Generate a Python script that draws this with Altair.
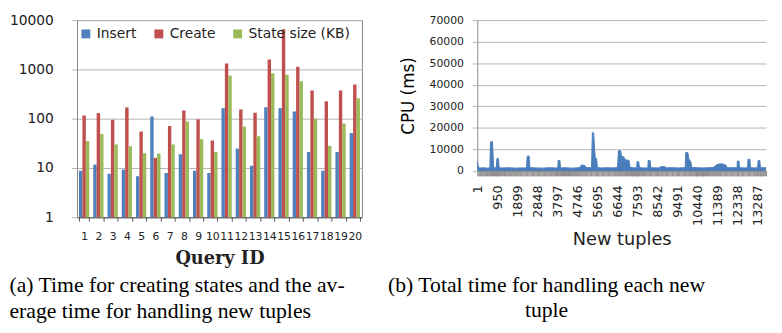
import altair as alt
import pandas as pd

# ---------- panel (a) data ----------
queries = list(range(1, 21))
insert_ms = [8.8, 11.7, 7.6, 9.3, 6.8, 111, 7.9, 19, 8.8, 7.9,
             163, 24.7, 11.1, 171, 163, 140, 21, 8.8, 21, 51]
create_ms = [116, 130, 95, 169, 55, 16, 71, 147, 97, 36,
             1318, 154, 132, 1585, 6500, 1131, 374, 225, 374, 493]
state_kb = [35, 49, 30, 27.5, 20, 19.6, 30, 88, 38.6, 21,
            747, 69, 44, 832, 782, 575, 100, 28, 80, 259]
series_names = ["Insert", "Create", "State size (KB)"]
series_colors = ["#4F81BD", "#C0504D", "#9BBB59"]
log_ticks = [1, 10, 100, 1000, 10000]

# ---------- panel (b) data ----------
tuple_ids = [1, 60, 150, 300, 450, 600, 630, 720, 780, 900, 935, 1000, 1040,
             1200, 1500, 1800, 2100, 2340, 2370, 2460, 2500, 2800, 3100, 3400,
             3700, 3820, 3840, 3920, 3950, 4200, 4500, 4800, 4900, 4950, 5100,
             5150, 5350, 5420, 5460, 5520, 5560, 5600, 5660, 5700, 5900, 6200,
             6500, 6650, 6700, 6800, 6850, 6950, 7000, 7100, 7200, 7250, 7400,
             7560, 7580, 7660, 7690, 7900, 8090, 8110, 8200, 8230, 8500, 8650,
             8700, 8900, 8960, 9200, 9500, 9860, 9890, 9990, 10030, 10130,
             10170, 10400, 10700, 11000, 11200, 11350, 11500, 11650, 11800,
             11850, 12100, 12320, 12340, 12410, 12440, 12700, 12820, 12840,
             12930, 12960, 13150, 13300, 13320, 13400, 13430, 13700]
cpu_ms = [4300, 1500, 1400, 1500, 1300, 1400, 13500, 13500, 1500, 1400, 5800,
          5800, 1500, 1400, 1500, 1300, 1400, 1400, 6900, 6900, 1500, 1400,
          1300, 1500, 1400, 1400, 4900, 4900, 1400, 1500, 1300, 1500, 2000,
          2800, 2600, 1600, 1500, 1600, 17700, 17700, 10900, 5800, 5800, 1600,
          1400, 1500, 1400, 1700, 9400, 9400, 6600, 6600, 5400, 5000, 4900,
          1600, 1500, 1400, 4300, 4300, 1500, 1400, 1400, 4800, 4800, 1500,
          1400, 1500, 2000, 2000, 1500, 1500, 1400, 1500, 8500, 8500, 5800,
          4200, 1600, 1500, 1400, 1500, 1600, 2800, 3300, 3200, 2600, 1500,
          1500, 1500, 4600, 4600, 1500, 1400, 1500, 5400, 5400, 1500, 1400,
          1500, 4800, 4800, 1500, 1500]
label_values = [1, 950, 1899, 2848, 3797, 4746, 5695, 6644, 7593, 8542,
                9491, 10440, 11389, 12338, 13287]
cpu_ticks = [0, 10000, 20000, 30000, 40000, 50000, 60000, 70000]

caption_a = ["(a) Time for creating states and the av-",
             "erage time for handling new tuples"]
caption_b = ["(b) Total time for handling each new", "tuple"]

rows = []
for i, q in enumerate(queries):
    rows.append({"query": q, "series": series_names[0], "value": insert_ms[i]})
    rows.append({"query": q, "series": series_names[1], "value": create_ms[i]})
    rows.append({"query": q, "series": series_names[2], "value": state_kb[i]})
df_a = pd.DataFrame(rows)
df_b = pd.DataFrame({"tuple": tuple_ids, "cpu": cpu_ms})

grid_col = "#B5B5B5"
text_col = "#222222"

left = alt.Chart(df_a).mark_bar().encode(
    x=alt.X("query:O", sort=queries,
            scale=alt.Scale(paddingInner=0.28, paddingOuter=0.14),
            axis=alt.Axis(title="Query ID", labelAngle=0, tickBand="extent",
                          tickSize=4, tickColor="#555555", domainColor="#555555",
                          labelFont="DejaVu Sans", labelFontSize=11,
                          labelColor=text_col, labelPadding=10,
                          titleFont="DejaVu Serif", titleFontSize=18,
                          titleFontWeight="bold", titleColor=text_col,
                          titlePadding=8)),
    xOffset=alt.XOffset("series:N", sort=series_names),
    y=alt.Y("value:Q",
            scale=alt.Scale(type="log", domain=[1, 10000]),
            axis=alt.Axis(values=log_ticks, format="d", title=None,
                          tickSize=6, tickColor=grid_col, domainColor="#888888",
                          gridColor=grid_col, labelFont="DejaVu Sans",
                          labelFontSize=14, labelColor=text_col,
                          labelPadding=18)),
    y2=alt.datum(1),
    color=alt.Color("series:N",
                    scale=alt.Scale(domain=series_names, range=series_colors),
                    legend=alt.Legend(title=None, orient="none", legendX=2,
                                      legendY=7, direction="horizontal",
                                      symbolType="square", symbolSize=81,
                                      symbolStrokeWidth=0, labelFontSize=14,
                                      labelFont="DejaVu Sans",
                                      labelColor=text_col, columnPadding=15,
                                      padding=0, labelOffset=4)),
).properties(
    width=289, height=200,
    view=alt.ViewBackground(stroke="#888888"),
    title=alt.TitleParams(caption_a, orient="bottom", anchor="start",
                          font="Liberation Serif", fontSize=22,
                          fontWeight="normal", color="#000000",
                          lineHeight=26, offset=8),
)

right = alt.Chart(df_b).mark_area(
    color="#4A7EBB", opacity=1, line={"color": "#4A7EBB", "strokeWidth": 1}
).encode(
    x=alt.X("tuple:Q",
            scale=alt.Scale(domain=[1, 13700], nice=False, zero=False),
            axis=alt.Axis(title="New tuples",
                          values=sorted(set(list(range(1, 13701, 40)) + label_values)),
                          labelExpr="indexof(" + str(label_values) +
                                    ", datum.value) >= 0 ? format(datum.value, 'd') : ''",
                          labelAngle=-90, labelOverlap=False, labelFlush=False,
                          labelBound=False, grid=False, tickSize=5,
                          tickColor="#8C8C8C", domainColor="#8C8C8C",
                          labelFont="DejaVu Sans", labelFontSize=13,
                          labelColor=text_col, labelPadding=9,
                          titleFont="DejaVu Sans", titleFontSize=18,
                          titleFontWeight="normal", titleColor=text_col,
                          titlePadding=5)),
    y=alt.Y("cpu:Q",
            scale=alt.Scale(domain=[0, 70000], nice=False),
            axis=alt.Axis(values=cpu_ticks, format="d", title="CPU (ms)",
                          tickSize=5, tickColor=grid_col, gridColor=grid_col,
                          domainColor="#8C8C8C", labelFont="DejaVu Sans",
                          labelFontSize=11, labelColor=text_col,
                          labelPadding=9, titleFont="DejaVu Sans",
                          titleFontSize=17, titleFontWeight="normal",
                          titleColor="#000000", titlePadding=12)),
).properties(
    width=293, height=153,
    view=alt.ViewBackground(stroke="transparent"),
    title=alt.TitleParams(caption_b, orient="bottom", anchor="middle",
                          frame="bounds", font="Liberation Serif", fontSize=22,
                          fontWeight="normal", color="#000000",
                          lineHeight=26, offset=27, dx=-40),
)

chart = alt.hconcat(left, right, spacing=24).properties(
    padding={"left": 0, "top": 2, "right": 0, "bottom": 0}
)

chart.save("out.html", embed_options={"renderer": "svg", "actions": False})
